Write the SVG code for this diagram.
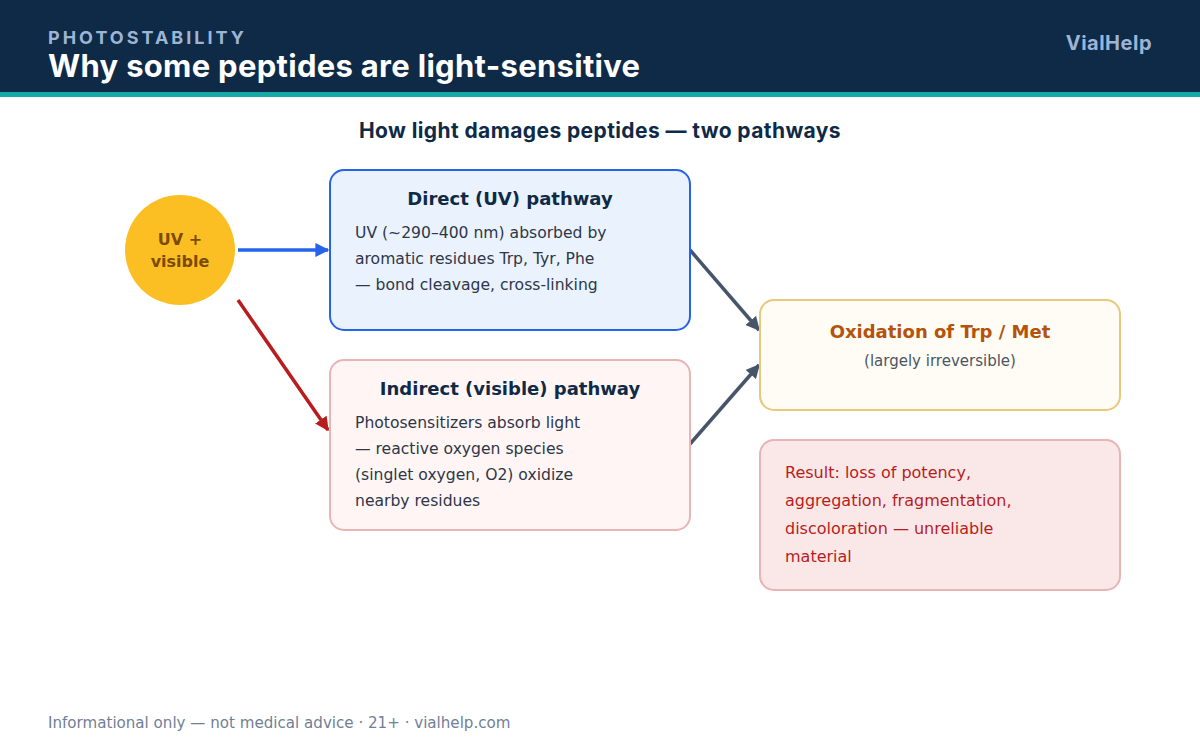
<svg xmlns="http://www.w3.org/2000/svg" width="1200" height="750" viewBox="0 0 1200 750">
<style>
.hd{font-family:Inter,"Noto Sans","Liberation Sans",sans-serif;font-weight:700}
.dj{font-family:"DejaVu Sans","Liberation Sans",sans-serif}
.bt{font-size:15.6px;fill:#2d3748}
.ttl{font-size:18px;font-weight:700;fill:#0f2a47;text-anchor:middle}
.res{font-size:16px;fill:#b91c1c}
</style>
<defs>
<marker id="ab" viewBox="0 0 10 10" refX="9" refY="5" markerWidth="4" markerHeight="4" orient="auto"><path d="M0,0 L10,5 L0,10 z" fill="#2563eb"/></marker>
<marker id="ar" viewBox="0 0 10 10" refX="9" refY="5" markerWidth="4" markerHeight="4" orient="auto"><path d="M0,0 L10,5 L0,10 z" fill="#b91c1c"/></marker>
<marker id="ag" viewBox="0 0 10 10" refX="9" refY="5" markerWidth="4" markerHeight="4" orient="auto"><path d="M0,0 L10,5 L0,10 z" fill="#475569"/></marker>
</defs>
<rect width="1200" height="750" fill="#ffffff"/>
<g id="header">
<rect x="0" y="0" width="1200" height="92" fill="#0f2a47"/>
<rect x="0" y="92" width="1200" height="5" fill="#14a8a8"/>
<text x="48" y="44" class="hd" font-size="18" letter-spacing="3" fill="#9db5d5">PHOTOSTABILITY</text>
<text x="48" y="77" class="hd" font-size="31" letter-spacing="0.3" fill="#ffffff">Why some peptides are light-sensitive</text>
<text x="1152" y="50" class="hd" font-size="20" letter-spacing="0.5" text-anchor="end" fill="#9db5d5">VialHelp</text>
</g>
<text x="600" y="138" class="hd" font-size="21" text-anchor="middle" letter-spacing="0.4" fill="#0f2a47">How light damages peptides — two pathways</text>
<g id="connectors" fill="none" stroke-width="3.5">
<line x1="238" y1="250" x2="328" y2="250" stroke="#2563eb" marker-end="url(#ab)"/>
<line x1="238" y1="300" x2="328" y2="430" stroke="#b91c1c" marker-end="url(#ar)"/>
<line x1="690" y1="250" x2="759" y2="330" stroke="#475569" marker-end="url(#ag)"/>
<line x1="690" y1="444" x2="759" y2="365" stroke="#475569" marker-end="url(#ag)"/>
</g>
<g id="source">
<circle cx="180" cy="250" r="55" fill="#fbbf24"/>
<text x="180" y="245" class="dj" font-size="16" font-weight="700" text-anchor="middle" fill="#7c4a03">UV +</text>
<text x="180" y="267" class="dj" font-size="16" font-weight="700" text-anchor="middle" fill="#7c4a03">visible</text>
</g>
<g id="direct">
<rect x="330" y="170" width="360" height="160" rx="14" fill="#eaf2fd" stroke="#2563eb" stroke-width="2"/>
<text x="510" y="205" class="dj ttl">Direct (UV) pathway</text>
<text x="355" y="238" class="dj bt">UV (~290–400 nm) absorbed by</text>
<text x="355" y="264" class="dj bt">aromatic residues Trp, Tyr, Phe</text>
<text x="355" y="290" class="dj bt">— bond cleavage, cross-linking</text>
</g>
<g id="indirect">
<rect x="330" y="360" width="360" height="170" rx="14" fill="#fff5f5" stroke="#e8b4b4" stroke-width="2"/>
<text x="510" y="395" class="dj ttl">Indirect (visible) pathway</text>
<text x="355" y="428" class="dj bt">Photosensitizers absorb light</text>
<text x="355" y="454" class="dj bt">— reactive oxygen species</text>
<text x="355" y="480" class="dj bt">(singlet oxygen, O2) oxidize</text>
<text x="355" y="506" class="dj bt">nearby residues</text>
</g>
<g id="oxidation">
<rect x="760" y="300" width="360" height="110" rx="14" fill="#fffcf5" stroke="#e8c87a" stroke-width="2"/>
<text x="940" y="338" class="dj" font-size="18" font-weight="700" text-anchor="middle" fill="#b45309">Oxidation of Trp / Met</text>
<text x="940" y="366" class="dj" font-size="15" text-anchor="middle" fill="#4b5563">(largely irreversible)</text>
</g>
<g id="result">
<rect x="760" y="440" width="360" height="150" rx="14" fill="#fae8e8" stroke="#e8b4b4" stroke-width="2"/>
<text x="785" y="478" class="dj res">Result: loss of potency,</text>
<text x="785" y="506" class="dj res">aggregation, fragmentation,</text>
<text x="785" y="534" class="dj res">discoloration — unreliable</text>
<text x="785" y="562" class="dj res">material</text>
</g>
<text x="48" y="728" class="dj" font-size="15.1" fill="#718096">Informational only — not medical advice · 21+ · vialhelp.com</text>
</svg>
